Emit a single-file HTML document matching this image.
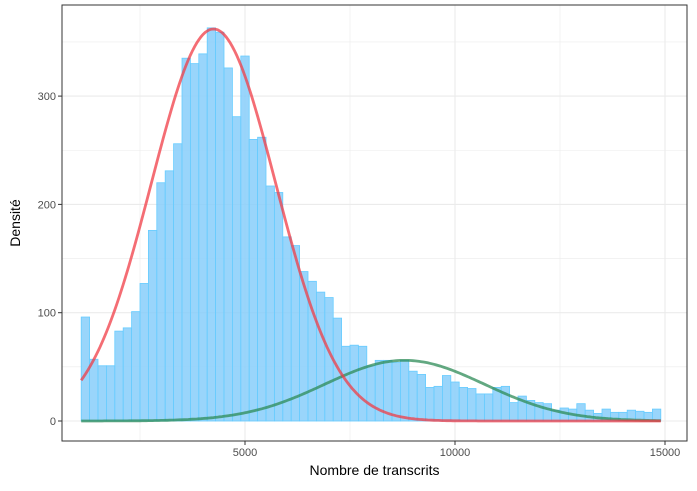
<!DOCTYPE html>
<html><head><meta charset="utf-8"><style>
body{margin:0;background:#fff;}
svg text{font-family:"Liberation Sans",sans-serif;}
</style></head><body>
<svg id="c" width="697" height="486"></svg>
<script>
const binStart = 1100, binWidth = 200;
const counts = [96,57,51,51,83,86,101,127,176,220,231,256,335,330,339,363,359,326,281,337,260,262,217,211,170,162,138,129,119,114,95,69,70,69,51,56,56,54,56,46,43,31,32,42,36,31,30,25,25,31,32,17,23,19,17,16,10,12,11,16,10,7,11,8,8,10,9,8,11];
const xTicks = [5000,10000,15000];
const yTicks = [0,100,200,300];
const redParams = [4250,1480,362];
const greenParams = [8800,1900,56];
const svg = document.getElementById('c');
const NS='http://www.w3.org/2000/svg';
const L=62,R=687,T=5,B=441;
const X=v=>245+(v-5000)*0.042;
const Y=v=>421-v*1.083;
function el(t,a,p){const e=document.createElementNS(NS,t);for(const k in a)e.setAttribute(k,a[k]);(p||svg).appendChild(e);return e;}
const bg=el('rect',{x:L,y:T,width:R-L,height:B-T,fill:'#fff'});


const grid=el('g',{});


for(let v=2500;v<=15000;v+=2500){const x=X(v);if(x<L||x>R)continue;el('line',{x1:x,x2:x,y1:T,y2:B,stroke:'#ebebeb','stroke-width':v%5000?0.6:1.1},grid);}
for(let v=0;v<=350;v+=50){const y=Y(v);el('line',{x1:L,x2:R,y1:y,y2:y,stroke:'#ebebeb','stroke-width':v%100?0.6:1.1},grid);}
const bars=el('g',{});


counts.forEach((c,i)=>{const x0=X(binStart+i*binWidth),x1=X(binStart+(i+1)*binWidth);
const r=el('rect',{x:x0,y:Y(c),width:x1-x0,height:Y(0)-Y(c),fill:'rgba(135,206,250,0.85)',stroke:'#66ccff','stroke-width':0.8},bars);

});
function curve(p,color,name){let d='';for(let v=binStart;v<=binStart+counts.length*binWidth;v+=50){const y=p[2]*Math.exp(-0.5*((v-p[0])/p[1])**2);d+=(d?'L':'M')+X(v).toFixed(1)+','+Y(y).toFixed(1);}
const e=el('path',{d:d,fill:'none',stroke:color,'stroke-width':2.8});

}
curve(greenParams,'rgba(46,139,87,0.75)','green-density-curve');
curve(redParams,'rgba(240,60,70,0.75)','red-density-curve');
const frame=el('rect',{x:L,y:T,width:R-L,height:B-T,fill:'none',stroke:'#333','stroke-width':1});


xTicks.forEach(v=>{const x=X(v);el('line',{x1:x,x2:x,y1:B,y2:B+4,stroke:'#333'});
const t=el('text',{x:x,y:B+15,'text-anchor':'middle','font-size':11,fill:'#4d4d4d'});t.textContent=v;

});
yTicks.forEach(v=>{const y=Y(v);el('line',{x1:L-4,x2:L,y1:y,y2:y,stroke:'#333'});
const t=el('text',{x:L-6,y:y+4,'text-anchor':'end','font-size':11,fill:'#4d4d4d'});t.textContent=v;

});
const xt=el('text',{x:(L+R)/2,y:475,'text-anchor':'middle','font-size':14,fill:'#000'});xt.textContent='Nombre de transcrits';


const yt=el('text',{x:0,y:0,'text-anchor':'middle','font-size':14,fill:'#000',transform:'translate(20,223) rotate(-90)'});yt.textContent='Densité';


</script>
</body></html>
